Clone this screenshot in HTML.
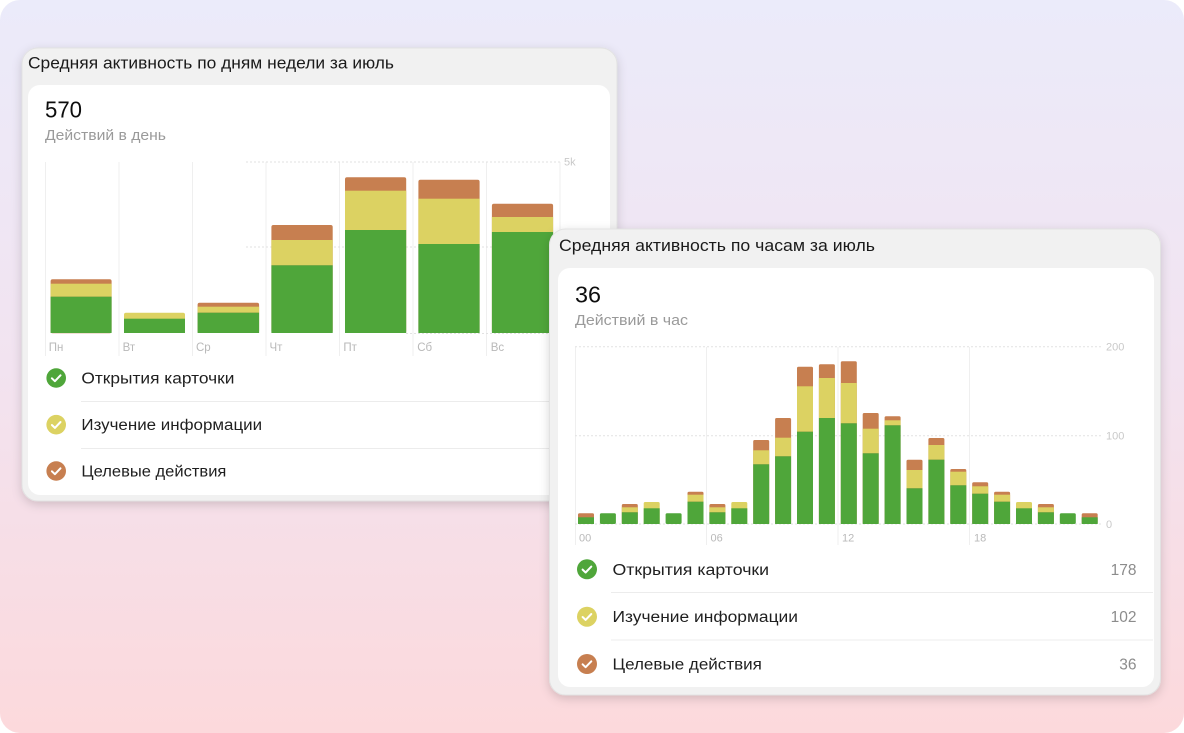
<!DOCTYPE html>
<html>
<head>
<meta charset="utf-8">
<style>
html,body{margin:0;padding:0;background:#ffffff;}
svg{display:block;}
text{font-family:"Liberation Sans","DejaVu Sans",sans-serif;}
</style>
</head>
<body>
<svg width="1184" height="733" viewBox="0 0 1184 733" xmlns="http://www.w3.org/2000/svg">
<defs>
<linearGradient id="bg" x1="0" y1="0" x2="0" y2="1">
<stop offset="0" stop-color="#ebebfa"/>
<stop offset="0.5" stop-color="#f2e3f0"/>
<stop offset="1" stop-color="#fcd9dc"/>
</linearGradient>
<filter id="sh" x="-10%" y="-10%" width="120%" height="125%">
<feDropShadow dx="0" dy="3" stdDeviation="5" flood-color="#000" flood-opacity="0.16"/>
</filter>
</defs>
<rect x="0" y="0" width="1184" height="733" rx="20" fill="url(#bg)"/>

<g>
<rect x="22" y="48" width="595" height="453" rx="16" fill="#f1f1f1" stroke="#e2e2e2" stroke-width="1" filter="url(#sh)"/>
<rect x="28" y="85" width="582" height="410" rx="12" fill="#ffffff"/>
<text x="28" y="68.3" font-size="16.5" fill="#1a1a1a" textLength="366" lengthAdjust="spacingAndGlyphs">Средняя активность по дням недели за июль</text>
<text x="45" y="117.5" font-size="23" fill="#0d0d0d" textLength="37" lengthAdjust="spacingAndGlyphs">570</text>
<text x="45" y="140" font-size="15" fill="#9a9a9a" textLength="121" lengthAdjust="spacingAndGlyphs">Действий в день</text>
<g stroke="#efefef" stroke-width="1">
<line x1="45.5" y1="162" x2="45.5" y2="356"/>
<line x1="119" y1="162" x2="119" y2="356"/>
<line x1="192.5" y1="162" x2="192.5" y2="356"/>
<line x1="266" y1="162" x2="266" y2="356"/>
<line x1="339.5" y1="162" x2="339.5" y2="356"/>
<line x1="413" y1="162" x2="413" y2="356"/>
<line x1="486.5" y1="162" x2="486.5" y2="356"/>
<line x1="560" y1="162" x2="560" y2="356"/>
</g>
<g stroke="#e2e2e2" stroke-width="1" stroke-dasharray="2,2">
<line x1="246" y1="162" x2="560" y2="162"/>
<line x1="246" y1="247" x2="560" y2="247"/>
<line x1="406" y1="333.5" x2="560" y2="333.5"/>
</g>
<text x="564" y="165.5" font-size="11" fill="#c9c9c9">5k</text>
<rect x="50.6" y="279.3" width="61" height="54" rx="2" fill="#c77f50"/>
<rect x="50.6" y="283.7" width="61" height="13" fill="#dcd262"/>
<rect x="50.6" y="296.7" width="61" height="36.3" fill="#4fa63a"/>
<rect x="124" y="312.7" width="61" height="20.3" rx="2" fill="#dcd262"/>
<rect x="124" y="318.7" width="61" height="14.3" fill="#4fa63a"/>
<rect x="197.6" y="302.7" width="61.5" height="30.3" rx="2" fill="#c77f50"/>
<rect x="197.6" y="306.7" width="61.5" height="6" fill="#dcd262"/>
<rect x="197.6" y="312.7" width="61.5" height="20.3" fill="#4fa63a"/>
<rect x="271.4" y="225" width="61.3" height="108" rx="2" fill="#c77f50"/>
<rect x="271.4" y="240" width="61.3" height="25.3" fill="#dcd262"/>
<rect x="271.4" y="265.3" width="61.3" height="67.7" fill="#4fa63a"/>
<rect x="345" y="177.3" width="61.2" height="155.7" rx="2" fill="#c77f50"/>
<rect x="345" y="190.7" width="61.2" height="39.3" fill="#dcd262"/>
<rect x="345" y="230" width="61.2" height="103" fill="#4fa63a"/>
<rect x="418.4" y="179.7" width="61.2" height="153.3" rx="2" fill="#c77f50"/>
<rect x="418.4" y="198.7" width="61.2" height="45.3" fill="#dcd262"/>
<rect x="418.4" y="244" width="61.2" height="89" fill="#4fa63a"/>
<rect x="491.9" y="203.7" width="61.2" height="129.3" rx="2" fill="#c77f50"/>
<rect x="491.9" y="217" width="61.2" height="15" fill="#dcd262"/>
<rect x="491.9" y="232" width="61.2" height="101" fill="#4fa63a"/>
<g font-size="11.5" fill="#b9b9b9">
<text x="48.7" y="351">Пн</text>
<text x="122.6" y="351">Вт</text>
<text x="196" y="351">Ср</text>
<text x="269.5" y="351">Чт</text>
<text x="343.4" y="351">Пт</text>
<text x="417.2" y="351">Сб</text>
<text x="490.7" y="351">Вс</text>
</g>
<g stroke="#ececec" stroke-width="1">
<line x1="81" y1="401.5" x2="610" y2="401.5"/>
<line x1="81" y1="448.5" x2="610" y2="448.5"/>
</g>
<circle cx="56.2" cy="378" r="9.8" fill="#4fa63a"/>
<circle cx="56.2" cy="424.7" r="9.8" fill="#dcd262"/>
<circle cx="56.2" cy="471" r="9.8" fill="#c77f50"/>
<g stroke="#ffffff" stroke-width="2" fill="none" stroke-linecap="round" stroke-linejoin="round">
<path d="M51.9 378.3 L54.9 381.2 L60.5 375.3"/>
<path d="M51.9 425 L54.9 427.9 L60.5 422"/>
<path d="M51.9 471.3 L54.9 474.2 L60.5 468.3"/>
</g>
<g font-size="15.5" fill="#1f1f1f">
<text x="81.4" y="383.6" textLength="153" lengthAdjust="spacingAndGlyphs">Открытия карточки</text>
<text x="81.4" y="430.2" textLength="180.7" lengthAdjust="spacingAndGlyphs">Изучение информации</text>
<text x="81.4" y="476.5" textLength="145" lengthAdjust="spacingAndGlyphs">Целевые действия</text>
</g>
</g>

<g>
<rect x="549.5" y="229" width="611" height="466" rx="16" fill="#f1f1f1" stroke="#e2e2e2" stroke-width="1" filter="url(#sh)"/>
<rect x="558" y="268" width="596" height="419" rx="12" fill="#ffffff"/>
<text x="559" y="251" font-size="16.5" fill="#1a1a1a" textLength="316" lengthAdjust="spacingAndGlyphs">Средняя активность по часам за июль</text>
<text x="575" y="302.3" font-size="23" fill="#0d0d0d" textLength="26" lengthAdjust="spacingAndGlyphs">36</text>
<text x="575" y="325" font-size="15" fill="#9a9a9a" textLength="113" lengthAdjust="spacingAndGlyphs">Действий в час</text>
<g stroke="#efefef" stroke-width="1">
<line x1="575.5" y1="347" x2="575.5" y2="545"/>
<line x1="706.5" y1="347" x2="706.5" y2="545"/>
<line x1="838" y1="347" x2="838" y2="545"/>
<line x1="969.5" y1="347" x2="969.5" y2="545"/>
</g>
<g stroke="#e2e2e2" stroke-width="1" stroke-dasharray="2,2">
<line x1="575" y1="346.7" x2="1103" y2="346.7"/>
<line x1="575" y1="435.7" x2="1103" y2="435.7"/>
<line x1="575" y1="524" x2="1103" y2="524"/>
</g>
<g font-size="11" fill="#c9c9c9">
<text x="1106" y="350.7">200</text>
<text x="1106" y="439.7">100</text>
<text x="1106" y="528">0</text>
</g>
<g font-size="11" fill="#b9b9b9">
<text x="579" y="541.5">00</text>
<text x="710.5" y="541.5">06</text>
<text x="842" y="541.5">12</text>
<text x="974" y="541.5">18</text>
</g>
<rect x="578" y="513.3" width="16" height="10.7" rx="1.5" fill="#c77f50"/>
<rect x="578" y="517.3" width="16" height="6.7" fill="#4fa63a"/>
<rect x="599.9" y="513.3" width="16" height="10.7" rx="1.5" fill="#4fa63a"/>
<rect x="621.8" y="504" width="16" height="20" rx="1.5" fill="#c77f50"/>
<rect x="621.8" y="507.3" width="16" height="5" fill="#dcd262"/>
<rect x="621.8" y="512.3" width="16" height="11.7" fill="#4fa63a"/>
<rect x="643.7" y="502" width="16" height="22" rx="1.5" fill="#dcd262"/>
<rect x="643.7" y="508.3" width="16" height="15.7" fill="#4fa63a"/>
<rect x="665.6" y="513.3" width="16" height="10.7" rx="1.5" fill="#4fa63a"/>
<rect x="687.5" y="491.7" width="16" height="32.3" rx="1.5" fill="#c77f50"/>
<rect x="687.5" y="494.7" width="16" height="7" fill="#dcd262"/>
<rect x="687.5" y="501.7" width="16" height="22.3" fill="#4fa63a"/>
<rect x="709.4" y="504" width="16" height="20" rx="1.5" fill="#c77f50"/>
<rect x="709.4" y="507.3" width="16" height="5" fill="#dcd262"/>
<rect x="709.4" y="512.3" width="16" height="11.7" fill="#4fa63a"/>
<rect x="731.3" y="502" width="16" height="22" rx="1.5" fill="#dcd262"/>
<rect x="731.3" y="508.3" width="16" height="15.7" fill="#4fa63a"/>
<rect x="753.2" y="440" width="16" height="84" rx="1.5" fill="#c77f50"/>
<rect x="753.2" y="450.3" width="16" height="14" fill="#dcd262"/>
<rect x="753.2" y="464.3" width="16" height="59.7" fill="#4fa63a"/>
<rect x="775.1" y="418" width="16" height="106" rx="1.5" fill="#c77f50"/>
<rect x="775.1" y="437.7" width="16" height="18.6" fill="#dcd262"/>
<rect x="775.1" y="456.3" width="16" height="67.7" fill="#4fa63a"/>
<rect x="797" y="366.7" width="16" height="157.3" rx="1.5" fill="#c77f50"/>
<rect x="797" y="386.3" width="16" height="45.4" fill="#dcd262"/>
<rect x="797" y="431.7" width="16" height="92.3" fill="#4fa63a"/>
<rect x="818.9" y="364.3" width="16" height="159.7" rx="1.5" fill="#c77f50"/>
<rect x="818.9" y="378" width="16" height="40" fill="#dcd262"/>
<rect x="818.9" y="418" width="16" height="106" fill="#4fa63a"/>
<rect x="840.8" y="361.3" width="16" height="162.7" rx="1.5" fill="#c77f50"/>
<rect x="840.8" y="383" width="16" height="40.3" fill="#dcd262"/>
<rect x="840.8" y="423.3" width="16" height="100.7" fill="#4fa63a"/>
<rect x="862.7" y="413" width="16" height="111" rx="1.5" fill="#c77f50"/>
<rect x="862.7" y="428.7" width="16" height="24.6" fill="#dcd262"/>
<rect x="862.7" y="453.3" width="16" height="70.7" fill="#4fa63a"/>
<rect x="884.6" y="416.3" width="16" height="107.7" rx="1.5" fill="#c77f50"/>
<rect x="884.6" y="420.3" width="16" height="5" fill="#dcd262"/>
<rect x="884.6" y="425.3" width="16" height="98.7" fill="#4fa63a"/>
<rect x="906.5" y="459.7" width="16" height="64.3" rx="1.5" fill="#c77f50"/>
<rect x="906.5" y="470" width="16" height="18.3" fill="#dcd262"/>
<rect x="906.5" y="488.3" width="16" height="35.7" fill="#4fa63a"/>
<rect x="928.4" y="438" width="16" height="86" rx="1.5" fill="#c77f50"/>
<rect x="928.4" y="445" width="16" height="14.7" fill="#dcd262"/>
<rect x="928.4" y="459.7" width="16" height="64.3" fill="#4fa63a"/>
<rect x="950.3" y="469" width="16" height="55" rx="1.5" fill="#c77f50"/>
<rect x="950.3" y="471.7" width="16" height="13.6" fill="#dcd262"/>
<rect x="950.3" y="485.3" width="16" height="38.7" fill="#4fa63a"/>
<rect x="972.2" y="482.3" width="16" height="41.7" rx="1.5" fill="#c77f50"/>
<rect x="972.2" y="486.3" width="16" height="7.4" fill="#dcd262"/>
<rect x="972.2" y="493.7" width="16" height="30.3" fill="#4fa63a"/>
<rect x="994.1" y="491.7" width="16" height="32.3" rx="1.5" fill="#c77f50"/>
<rect x="994.1" y="494.7" width="16" height="7" fill="#dcd262"/>
<rect x="994.1" y="501.7" width="16" height="22.3" fill="#4fa63a"/>
<rect x="1016" y="502" width="16" height="22" rx="1.5" fill="#dcd262"/>
<rect x="1016" y="508.3" width="16" height="15.7" fill="#4fa63a"/>
<rect x="1037.9" y="504" width="16" height="20" rx="1.5" fill="#c77f50"/>
<rect x="1037.9" y="507.3" width="16" height="5" fill="#dcd262"/>
<rect x="1037.9" y="512.3" width="16" height="11.7" fill="#4fa63a"/>
<rect x="1059.8" y="513.3" width="16" height="10.7" rx="1.5" fill="#4fa63a"/>
<rect x="1081.7" y="513.3" width="16" height="10.7" rx="1.5" fill="#c77f50"/>
<rect x="1081.7" y="517.3" width="16" height="6.7" fill="#4fa63a"/>
<g stroke="#ececec" stroke-width="1">
<line x1="611" y1="592.5" x2="1153" y2="592.5"/>
<line x1="611" y1="640" x2="1153" y2="640"/>
</g>
<circle cx="587" cy="569.3" r="10" fill="#4fa63a"/>
<circle cx="587" cy="616.7" r="10" fill="#dcd262"/>
<circle cx="587" cy="664" r="10" fill="#c77f50"/>
<g stroke="#ffffff" stroke-width="2" fill="none" stroke-linecap="round" stroke-linejoin="round">
<path d="M582.6 569.6 L585.6 572.5 L591.3 566.6"/>
<path d="M582.6 617 L585.6 619.9 L591.3 614"/>
<path d="M582.6 664.3 L585.6 667.2 L591.3 661.3"/>
</g>
<g font-size="15.5" fill="#1f1f1f">
<text x="612.5" y="574.8" textLength="156.6" lengthAdjust="spacingAndGlyphs">Открытия карточки</text>
<text x="612.5" y="622.2" textLength="185.5" lengthAdjust="spacingAndGlyphs">Изучение информации</text>
<text x="612.5" y="669.5" textLength="149.4" lengthAdjust="spacingAndGlyphs">Целевые действия</text>
</g>
<g font-size="15.5" fill="#8c8c8c" text-anchor="end">
<text x="1136.5" y="574.8">178</text>
<text x="1136.5" y="622.2">102</text>
<text x="1136.5" y="669.5">36</text>
</g>
</g>
</svg>
</body>
</html>
